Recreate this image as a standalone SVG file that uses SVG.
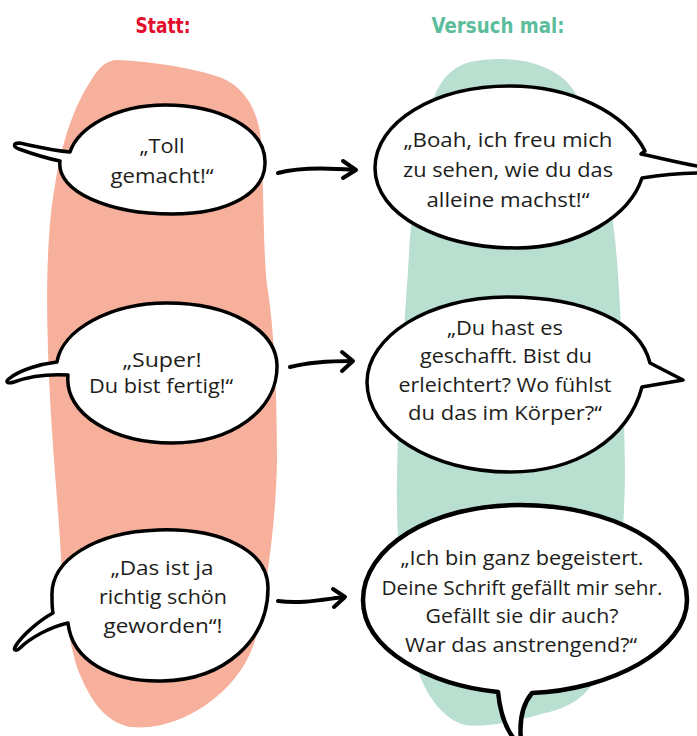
<svg xmlns="http://www.w3.org/2000/svg" width="697" height="736" viewBox="0 0 697 736">
<style>
.hdr{font-family:"DejaVu Sans","Liberation Sans",sans-serif;font-weight:bold;font-size:22px;text-anchor:middle;font-stretch:condensed}
.t{font-family:"Open Sans",Lato,"Noto Sans",sans-serif;font-size:20px;fill:#1d1d1b;text-anchor:middle}
.b{fill:#fff;stroke:#000;stroke-width:3.5;stroke-linejoin:round}
.arr{fill:none;stroke:#000;stroke-width:4;stroke-linecap:round;stroke-linejoin:round}
</style>
<rect width="697" height="736" fill="#fff"/>
<g id="backgrounds">
<path id="blob-red" fill="#f6b09b" d="M 118 60 C 160 62, 200 70, 222 78 C 245 88, 258 110, 261 140 C 264 190, 263 250, 267 285 C 273 320, 277 380, 277 460 C 276 520, 268 570, 262 610 C 256 650, 243 675, 215 698 C 190 718, 160 730, 130 727 C 105 722, 90 700, 78 670 C 68 640, 63 600, 60 540 C 56 480, 50 420, 48 350 C 46 290, 47 230, 55 185 C 62 140, 75 105, 90 82 C 98 68, 106 60, 118 60 Z"/>
<path id="blob-green" fill="#b9dfd0" d="M 470 62 C 500 56, 540 58, 565 80 C 590 105, 605 160, 614 230 C 620 280, 624 380, 625 470 C 625 540, 615 620, 600 670 C 590 695, 570 708, 545 713 C 520 720, 490 728, 465 725 C 440 718, 422 690, 413 655 C 402 610, 396 540, 397 480 C 398 400, 405 320, 408 270 C 412 200, 420 130, 437 90 C 445 75, 455 66, 470 62 Z"/>
</g>
<g id="header-statt"><text class="hdr" x="163" y="33" fill="#e3102d" textLength="55" lengthAdjust="spacingAndGlyphs">Statt:</text></g>
<g id="header-versuch"><text class="hdr" x="498" y="33" fill="#5bbd9c" textLength="133" lengthAdjust="spacingAndGlyphs">Versuch mal:</text></g>
<g id="connectors">
<path class="arr" d="M 278 173 C 300 167, 330 168, 354 170"/>
<path class="arr" d="M 343 161 L 356 170 L 343 178"/>
<path class="arr" d="M 290 367 C 310 362, 330 361, 352 361"/>
<path class="arr" d="M 342 352 L 353 361 L 342 371"/>
<path class="arr" d="M 278 601 C 300 604, 320 600, 344 597"/>
<path class="arr" d="M 333 589 L 345 597 L 334 607"/>
</g>
<g id="bubble-toll">
<path class="b" d="M 60 161 C 56 192, 110 214, 172 214 C 230 214, 266 192, 265 162 C 265 128, 220 105, 165 105 C 115 105, 78 128, 70 152 C 50 150, 30 145, 19 143 C 13 143, 13 147, 19 149 C 30 153, 45 158, 60 161 Z"/>
<text class="t" x="162" y="153" textLength="45" lengthAdjust="spacingAndGlyphs">„Toll</text>
<text class="t" x="162" y="183" textLength="103" lengthAdjust="spacingAndGlyphs">gemacht!“</text>
</g>
<g id="bubble-super">
<path class="b" d="M 68 375 C 64 415, 115 443, 172 443 C 232 443, 278 410, 277 365 C 276 330, 230 303, 167 303 C 110 303, 62 330, 57 362 C 40 364, 20 370, 10 378 C 4 382, 8 384, 14 382 C 30 376, 50 374, 68 375 Z"/>
<text class="t" x="162" y="367" textLength="79" lengthAdjust="spacingAndGlyphs">„Super!</text>
<text class="t" x="161" y="393" textLength="144" lengthAdjust="spacingAndGlyphs">Du bist fertig!“</text>
</g>
<g id="bubble-das">
<path class="b" d="M 68 623 C 72 660, 110 682, 162 681 C 225 680, 268 640, 268 588 C 268 550, 220 528, 158 530 C 95 532, 50 560, 52 597 C 52 603, 52 608, 53 613 C 40 620, 22 635, 15 647 C 13 651, 17 651, 20 648 C 30 638, 50 627, 68 623 Z"/>
<text class="t" x="162" y="575" textLength="103" lengthAdjust="spacingAndGlyphs">„Das ist ja</text>
<text class="t" x="163" y="604" textLength="128" lengthAdjust="spacingAndGlyphs">richtig schön</text>
<text class="t" x="163" y="633" textLength="119" lengthAdjust="spacingAndGlyphs">geworden“!</text>
</g>
<g id="bubble-boah">
<path class="b" d="M 641 154 L 645 151 C 625 112, 570 86, 510 86 C 435 86, 375 122, 375 168 C 375 215, 440 248, 517 248 C 580 248, 630 215, 642 178 C 660 175, 680 173, 702 173 L 702 167 C 680 163, 660 158, 641 154 Z"/>
<text class="t" x="508" y="147" textLength="209" lengthAdjust="spacingAndGlyphs">„Boah, ich freu mich</text>
<text class="t" x="508" y="177" textLength="210" lengthAdjust="spacingAndGlyphs">zu sehen, wie du das</text>
<text class="t" x="508" y="207" textLength="163" lengthAdjust="spacingAndGlyphs">alleine machst!“</text>
</g>
<g id="bubble-du-hast">
<path class="b" d="M 650 363 C 640 322, 585 297, 507 297 C 428 297, 367 337, 367 382 C 367 432, 432 472, 510 472 C 575 472, 628 440, 642 387 L 683 380 Z"/>
<text class="t" x="505" y="335" textLength="116" lengthAdjust="spacingAndGlyphs">„Du hast es</text>
<text class="t" x="506" y="363" textLength="172" lengthAdjust="spacingAndGlyphs">geschafft. Bist du</text>
<text class="t" x="505" y="392" textLength="213" lengthAdjust="spacingAndGlyphs">erleichtert? Wo fühlst</text>
<text class="t" x="505" y="420" textLength="194" lengthAdjust="spacingAndGlyphs">du das im Körper?“</text>
</g>
<g id="bubble-ich-bin">
<path class="b" style="stroke-width:4.5" d="M 532 693 C 610 690, 687 650, 687 600 C 687 545, 610 505, 520 505 C 430 505, 363 548, 363 600 C 363 650, 430 685, 498 692 C 500 712, 505 728, 515 740 L 521 740 C 519 720, 522 705, 532 693 Z"/>
<text class="t" x="522" y="565" textLength="243" lengthAdjust="spacingAndGlyphs">„Ich bin ganz begeistert.</text>
<text class="t" x="522" y="595" textLength="281" lengthAdjust="spacingAndGlyphs">Deine Schrift gefällt mir sehr.</text>
<text class="t" x="522" y="623" textLength="193" lengthAdjust="spacingAndGlyphs">Gefällt sie dir auch?</text>
<text class="t" x="521" y="652" textLength="232" lengthAdjust="spacingAndGlyphs">War das anstrengend?“</text>
</g>
</svg>
